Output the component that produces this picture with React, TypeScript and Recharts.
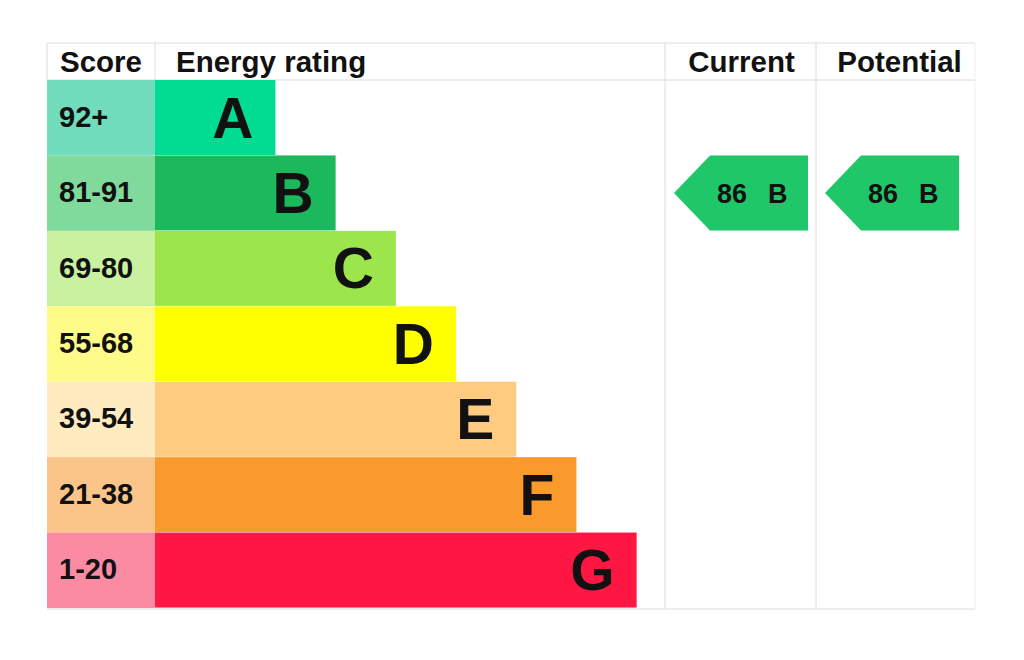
import { BarChart, Bar, XAxis, YAxis, Customized } from 'recharts';

const ratings = ['A', 'B', 'C', 'D', 'E', 'F', 'G'];
const scoreRanges = ['92+', '81-91', '69-80', '55-68', '39-54', '21-38', '1-20'];
const lowerBounds = [92, 81, 69, 55, 39, 21, 1];
const barLengths = [2, 3, 4, 5, 6, 7, 8];
const barColors = ['#00dd93', '#1bb95b', '#9de54c', '#ffff00', '#fecb80', '#fa9a2d', '#ff1744'];
const scoreColors = ['#72ddbd', '#80da9b', '#c9f2a0', '#fffb88', '#feebc0', '#fbc589', '#fb8ba3'];

const currentScore = 86;
const potentialScore = 86;

const data = ratings.map((rating, i) => ({
  rating,
  range: scoreRanges[i],
  length: barLengths[i],
}));

const ratingFor = (score: number) => ratings[lowerBounds.findIndex((b) => score >= b)];
const currentRating = ratingFor(currentScore);
const potentialRating = ratingFor(potentialScore);

// table layout (page px, body margin removed)
const LEFT = 47;
const SCORE_W = 108;
const TOP = 43;
const HEAD_BOTTOM = 80;
const BOTTOM = 608;
const RIGHT = 975;
const CUR_COL = [665, 816];
const POT_COL = [816, 975];
const ARROW_COLOR = '#20c768';
const BAND_H = (BOTTOM - HEAD_BOTTOM) / ratings.length;
const FONT = '"Liberation Sans", Arial, sans-serif';

const Arrow = ({ x0, x1, y, h, score, rating }: any) => {
  const tip = 36;
  const pts = `${x0},${y + h / 2} ${x0 + tip},${y} ${x1},${y} ${x1},${y + h} ${x0 + tip},${y + h}`;
  return (
    <g>
      <polygon points={pts} fill={ARROW_COLOR} />
      <text x={x0 + 43} y={y + h / 2 + 10} fontFamily={FONT} fontWeight="bold" fontSize={27} fill="#111">
        {score}
        <tspan dx={21}>{rating}</tspan>
      </text>
    </g>
  );
};

const RatingBar = (props: any) => {
  const { x, y, width, height, payload, index } = props;
  const i = index ?? ratings.indexOf(payload.rating);
  return (
    <g>
      <rect x={x} y={y} width={width} height={height} fill={barColors[i]} />
      <text
        x={x + width - 22}
        y={y + height / 2 + 20}
        textAnchor="end"
        fontFamily={FONT}
        fontWeight="bold"
        fontSize={57}
        fill="#111"
      >
        {payload.rating}
      </text>
      {payload.rating === currentRating && (
        <Arrow x0={CUR_COL[0] + 9} x1={CUR_COL[1] - 8} y={y} h={height} score={currentScore} rating={currentRating} />
      )}
      {payload.rating === potentialRating && (
        <Arrow x0={POT_COL[0] + 9} x1={POT_COL[1] - 16} y={y} h={height} score={potentialScore} rating={potentialRating} />
      )}
    </g>
  );
};

const ScoreTick = (props: any) => {
  const { y, payload, index } = props;
  return (
    <g>
      <rect x={LEFT} y={y - BAND_H / 2} width={SCORE_W} height={BAND_H} fill={scoreColors[index]} />
      <text x={LEFT + 12} y={y + 9} fontFamily={FONT} fontWeight="bold" fontSize={29} fill="#111">
        {payload.value}
      </text>
    </g>
  );
};

const TableFrame = () => {
  const line = '#dcdcdc';
  const head = { fontFamily: FONT, fontWeight: 'bold' as const, fontSize: 29.5, fill: '#111' };
  return (
    <g>
      <line x1={LEFT} y1={TOP} x2={RIGHT} y2={TOP} stroke={line} />
      <line x1={LEFT} y1={HEAD_BOTTOM} x2={RIGHT} y2={HEAD_BOTTOM} stroke={line} />
      <line x1={LEFT} y1={BOTTOM + 1} x2={RIGHT} y2={BOTTOM + 1} stroke={line} />
      <line x1={LEFT} y1={TOP} x2={LEFT} y2={HEAD_BOTTOM} stroke={line} />
      <line x1={LEFT + SCORE_W} y1={TOP} x2={LEFT + SCORE_W} y2={HEAD_BOTTOM} stroke={line} />
      <line x1={CUR_COL[0]} y1={TOP} x2={CUR_COL[0]} y2={BOTTOM + 1} stroke={line} />
      <line x1={POT_COL[0]} y1={TOP} x2={POT_COL[0]} y2={BOTTOM + 1} stroke={line} />
      <line x1={RIGHT} y1={TOP} x2={RIGHT} y2={BOTTOM + 1} stroke="#efefef" />
      <text x={LEFT + 13} y={72} {...head}>Score</text>
      <text x={LEFT + SCORE_W + 21} y={72} {...head}>Energy rating</text>
      <text x={(CUR_COL[0] + CUR_COL[1]) / 2 + 1} y={72} textAnchor="middle" {...head}>Current</text>
      <text x={(POT_COL[0] + POT_COL[1]) / 2 + 4} y={72} textAnchor="middle" {...head}>Potential</text>
    </g>
  );
};

export default function App() {
  return (
    <div style={{ width: 1024, height: 660, background: '#fff' }}>
      <style>{'body{margin:0}'}</style>
      <BarChart
        width={1024}
        height={660}
        data={data}
        layout="vertical"
        barCategoryGap={0}
        margin={{ top: HEAD_BOTTOM, right: 1024 - RIGHT, bottom: 660 - BOTTOM, left: LEFT }}
      >
        <XAxis type="number" hide domain={[0, 13.62]} allowDataOverflow />
        <YAxis
          type="category"
          dataKey="range"
          width={SCORE_W}
          axisLine={false}
          tickLine={false}
          tick={<ScoreTick />}
        />
        <Bar dataKey="length" shape={<RatingBar />} isAnimationActive={false} />
        <Customized component={<TableFrame />} />
      </BarChart>
    </div>
  );
}
